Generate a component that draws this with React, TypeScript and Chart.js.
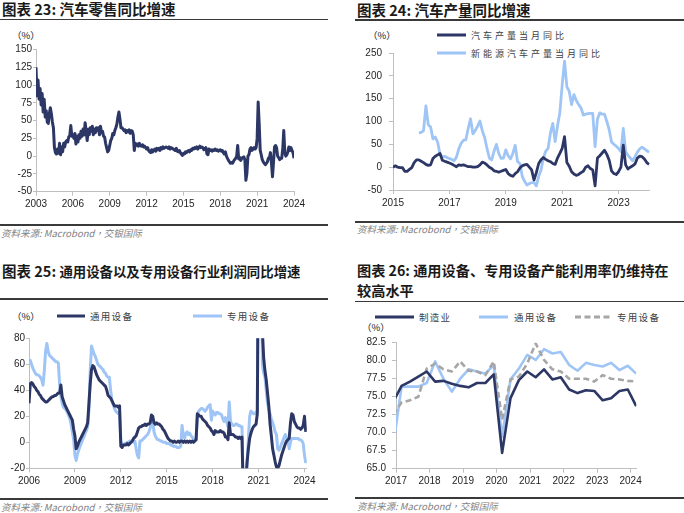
import React, { useEffect, useRef } from "react";
import { Chart, registerables } from "chart.js";
Chart.register(...registerables);

const NAVY = "#2c3766";
const LIGHT = "#9fc5f6";
const GREY = "#a6a6a6";
const AXIS = "#bfbfbf";
const TICK_TEXT = "#1f1f1f";
const CJK = "'Noto Sans CJK SC', 'Noto Sans', sans-serif";
const CJK_TC = "'Noto Sans CJK TC', 'Noto Sans CJK SC', sans-serif";

// ---------- 图表 23: 汽车零售同比增速 (monthly from 2003-01) ----------
const retailStartYear = 2003;
const retailYoY = [
  125, 85, 107, 80, 95, 72, 88, 62, 80, 55, 64, 48,
  46, 60, 68, 60, 48, 40, 12, 5, 3, 10, 4, 18,
  2, 13, 6, 18, 13, 20, 22, 20, 27, 29, 43, 28,
  30, 25, 32, 17, 28, 20, 30, 25, 35, 28, 38, 30,
  47, 35, 22, 38, 30, 40, 35, 42, 30, 38, 33, 40,
  36, 40, 30, 42, 33, 35, 28, 27, 18, 12, 6, 8,
  15, 22, 25, 32, 30, 36, 40, 45, 55, 62, 52, 40,
  40, 38, 36, 37, 33, 36, 34, 37, 32, 36, 35, 30,
  8, 18, 15, 17, 14, 18, 15, 14, 16, 13, 14, 12,
  10, 12, 8, 6, 5, 9, 6, 8, 10, 7, 11, 9,
  11, 8, 12, 10, 13, 11, 12, 13, 12, 11, 13, 10,
  12, 11, 10, 9, 8, 11, 7, 6, 8, 5, 3, 1,
  4, 3, 6, 5, 7, 8, 6, 9, 8, 11, 10, 12,
  11, 13, 10, 12, 14, 12, 13, 12, 9, 10, 12, 3,
  2, 10, 8, 9, 7, 9, 8, 10, 8, 9, 7, 8,
  9, 7, 8, 5, 3, 6, 0, -3, -6, -8, -10, -9,
  -10, -7, -5, -3, 0, 15, -4, -2, -6, -3, -2, -1,
  -5, -34, -24, 0, 2, 10, 12, 8, 10, 12, 10, 12,
  25, 76, 45, 8, 2, -5, -8, -10, -12, -10, -8, -3,
  -2, 5, -10, -29, -8, 13, 15, 12, 0, -2, -5, -3,
  -3, 10, 36, 5, 0, 2, 6, 13, 8, 12, 8, 5,
  -3,
];
const retailXTicks = [2003, 2006, 2009, 2012, 2015, 2018, 2021, 2024];
const retailYTicks = [-50, -25, 0, 25, 50, 75, 100, 125, 150];

// ---------- 图表 24: 汽车产量同比增速 (monthly from 2015-01) ----------
const prodStartYear = 2015;
const autoProdYoY = [
  0, 3, 0, -1, -1, -9, -9, -5, -1, 10, 16, 16,
  13, 10, 6, 4, 5, 19, 24, 27, 30, 15, 13, 11,
  9, 7, 4, 1, 5, 4, 5, 3, 1, 1, 0, 0,
  1, 5, 11, 9, 5, 0, -3, -8, -9, -11, -9, -7,
  -5, -14, -18, -20, -14, -10, -2, 3, 5, 6, 0, -6,
  -28, -12, 8, 16, 21, 17, 14, 12, 8, 6, 20, 30,
  41, 67, 10, 2, -10, -15, -18, -16, -12, -9, 0, 3,
  -3, -6, -41, 20, 25, 31, 37, 28, 15, -8, -14, -16,
  -10, 0, 48, 5, -4, 0, 3, 7, 20, 24, 23, 18,
  10, 6,
];
const nevProdYoY = [
  null, null, null, null, null, null, null, null, null, null, null, 75,
  76, 80, 134, 93, 88, 62, 66, 55, 28, 22, 24, 21,
  19, 17, 14, 22, 40, 52, 59, 60, 85, 106, 73, 80,
  90, 101, 80, 65, 41, 20, 16, 35, 50, 30, 19, 20,
  38, 25, 18, 30, 48, 12, 8, -20, -31, -39, -36, -34,
  -34, -41, -20, -6, 20, 35, 41, 75, 96, 56, 90, 119,
  180, 232, 176, 166, 137, 159, 146, 137, 130, 114, 116, 117,
  118, 118, 45, 105, 119, 116, 116, 100, 82, 55, 50, 46,
  41, 34, 85, 34, 26, 20, 14, 23, 33, 40, 44, 40,
  36, 33,
];
const prodXTicks = [2015, 2017, 2019, 2021, 2023];
const prodYTicks = [-50, 0, 50, 100, 150, 200, 250];

// ---------- 图表 25: 通用/专用设备利润同比 (monthly from 2006-01) ----------
const profitStartYear = 2006;
const generalEquipProfit = [
  30, 45, 46, 45, 43, 42, 40, 39, 37, 36, 34, 33,
  32, 31, 31, 32, 33, 34, 35, 35, 36, 36, 37, 38,
  38, 44, 35, 32, 29, 27, 25, 23, 21, 19, 17, 10,
  5, -5, -3, 0, 2, 4, 6, 8, 10, 12, 15, 30,
  45, 56, 59, 58, 55, 52, 50, 48, 47, 46, 45, 44,
  43, 40, 36, 35, 34, 32, 30, 28, 28, 28, 27, 28,
  -3, -4, -2, -2, -2, -1, -2, -1, 0, 1, 3, 4,
  5, 8, 11, 12, 12, 13, 13, 14, 13, 14, 14, 15,
  21, 20, 15, 14, 15, 14, 14, 13, 12, 10, 9, 7,
  5, 3, 2, 1, 1, 0, 1, 0, 0, 1, 0, 1,
  1, 0, 1, 0, 1, 0, 1, 0, 1, 0, 1, 2,
  22, 21, 20, 20, 18, 17, 16, 15, 13, 12, 11, 9,
  8, 6, 9, 8, 8, 8, 9, 8, 8, 7, 4, 4,
  2, 15, 6, 6, 6, 5, 4, 4, 3, 4, 3, 4,
  -40, -40, -30, -15, -5, 3, 7, 10, 12, 13, 14, 22,
  180, 220, 140, 85, 65, 55, 48, 38, 28, 14, 5, -5,
  -10, -15, -19, -20, -18, -14, -10, -7, -4, -1, 1, 2,
  3, 15, 22, 21, 16, 14, 12, 11, 11, 10, 11, 13,
  20, 8,
];
const specialEquipProfit = [
  62, 63, 60, 57, 55, 53, 52, 52, 51, 50, 48, 44,
  55, 70, 76, 70, 67, 66, 65, 64, 63, 62, 62, 61,
  45, 35, 30, 27, 26, 25, 23, 21, 18, 14, 8, 2,
  -10, -14, -9, -6, -3, -1, 2, 4, 7, 9, 12, 25,
  55, 74, 71, 68, 66, 63, 60, 59, 58, 57, 56, 54,
  53, 51, 50, 50, 40, 32, 29, 26, 24, 23, 22, 22,
  1, -2, -2, -1, -1, 0, 0, 1, 1, 1, 0, 1,
  -5, -10, -12, 1, 1, 2, 3, 4, 5, 6, 8, 11,
  14, 17, 8, 5, 3, 2, 2, 1, 1, 0, 0, 0,
  -1, -1, -1, -2, -2, -3, -3, -3, -4, -4, -4, -3,
  13, 5, 3, 7, 8, 6, 7, 5, 4, 2, 1, 2,
  21, 24, 25, 26, 26, 25, 24, 25, 27, 28, 29, 17,
  24, 22, 21, 23, 23, 22, 22, 21, 18, 16, 19, 16,
  12, 31, 16, 14, 13, 13, 14, 14, 13, 13, 12, 12,
  -40, -40, -30, -15, 3, 20, 24, 23, 22, 22, 23, 24,
  250, 280, 150, 60, 53, 50, 40, 30, 25, 22, 18, 15,
  12, 8, 6, -5, -6, -4, -1, 1, 4, 6, 3, 1,
  -5, 0, 3, 3, 3, 3, 3, 3, 2, 2, 1, -1,
  -10, -16,
];
const profitXTicks = [2006, 2009, 2012, 2015, 2018, 2021, 2024];
const profitYTicks = [-20, 0, 20, 40, 60, 80];

// ---------- 图表 26: 产能利用率 (quarterly from 2016Q4) ----------
const capStartYear = 2016;
const capStartQuarter = 4;
const mfgUtil = [
  74.3, 76.5, 77.1, 77.8, 78.5, 77.1, 77.2, 76.8, 76.5, 76.3, 76.9, 76.9, 78.1,
  67.2, 74.8, 77.3, 78.5, 77.7, 78.8, 77.4, 77.7, 76.0, 75.5, 75.9, 75.8,
  74.5, 74.8, 75.8, 76.0, 73.7,
];
const generalUtil = [
  68.2, 76.4, 76.4, 76.4, 76.9, 79.9, 77.5, 75.7, 77.5, 78.8, 78.5, 78.2, 79.4,
  69.4, 77.4, 78.9, 80.8, 80.1, 81.6, 81.0, 81.2, 79.4, 78.6, 79.7, 79.4,
  79.2, 79.7, 78.7, 79.3, 78.2,
];
const specialUtil = [
  72.5, 74.2, 74.5, 75.0, 78.9, 79.6, 78.8, 78.5, 79.9, 78.6, 78.5, 78.0, 79.9,
  71.8, 77.4, 77.8, 79.6, 82.4, 80.1, 78.8, 78.5, 77.5, 77.5, 77.5, 77.1,
  78.0, 77.5, 77.4, 77.2, 77.1,
];
const capXTicks = [2017, 2018, 2019, 2020, 2021, 2022, 2023, 2024];
const capYTicks = [65, 67.5, 70, 72.5, 75, 77.5, 80, 82.5];

// ---------- helpers ----------
const monthlyDates = (startYear: number, n: number) =>
  Array.from({ length: n }, (_, i) => startYear + i / 12);
// quarter-end month position (Mar, Jun, Sep, Dec)
const quarterlyDates = (startYear: number, startQ: number, n: number) =>
  Array.from({ length: n }, (_, i) => {
    const q = startQ - 1 + i;
    const y = startYear + Math.floor(q / 4);
    const qi = q % 4;
    return y + (qi * 3 + 2) / 12;
  });

type Series = {
  label: string;
  values: (number | null)[];
  color: string;
  width: number;
  dash?: number[];
  order?: number;
};
type Spec = {
  xs: number[];
  series: Series[];
  xMin: number;
  xMax: number;
  xTicks: number[];
  yMin: number;
  yMax: number;
  yTicks: number[];
  yFormat?: (v: number) => string;
  yAxisWidth: number;
  xAxisHeight: number;
  padTop: number;
  padRight: number;
  yTickLen: number;
  yTickPad: number;
};

function buildConfig(s: Spec): any {
  const tickFont = { family: "'Liberation Sans', Arial, sans-serif", size: 10 };
  return {
    type: "line",
    data: {
      datasets: s.series.map((d) => ({
        label: d.label,
        data: d.values.map((v, i) => ({ x: s.xs[i], y: v })),
        borderColor: d.color,
        backgroundColor: d.color,
        borderWidth: d.width,
        borderDash: d.dash || [],
        pointRadius: 0,
        pointHoverRadius: 0,
        tension: 0,
        fill: false,
        spanGaps: false,
        order: d.order ?? 0,
        borderJoinStyle: "round",
      })),
    },
    options: {
      animation: false,
      responsive: false,
      maintainAspectRatio: false,
      events: [],
      layout: { padding: { top: s.padTop, right: s.padRight, left: 0, bottom: 0 } },
      plugins: {
        legend: { display: false },
        tooltip: { enabled: false },
        title: { display: false },
      },
      scales: {
        x: {
          type: "linear",
          min: s.xMin,
          max: s.xMax,
          afterBuildTicks: (a: any) => {
            a.ticks = s.xTicks.map((v) => ({ value: v }));
          },
          afterFit: (a: any) => {
            a.height = s.xAxisHeight;
          },
          ticks: {
            callback: (v: any) => String(v),
            font: tickFont,
            color: TICK_TEXT,
            padding: 3,
            maxRotation: 0,
            autoSkip: false,
          },
          grid: { drawOnChartArea: false, drawTicks: true, tickLength: 4, color: AXIS, lineWidth: 1 },
          border: { display: true, color: AXIS, width: 1 },
        },
        y: {
          type: "linear",
          min: s.yMin,
          max: s.yMax,
          afterBuildTicks: (a: any) => {
            a.ticks = s.yTicks.map((v) => ({ value: v }));
          },
          afterFit: (a: any) => {
            a.width = s.yAxisWidth;
          },
          ticks: {
            callback: (v: any) => (s.yFormat ? s.yFormat(Number(v)) : String(v)),
            font: tickFont,
            color: TICK_TEXT,
            padding: s.yTickPad,
            autoSkip: false,
          },
          grid: { drawOnChartArea: false, drawTicks: true, tickLength: s.yTickLen, color: AXIS, lineWidth: 1 },
          border: { display: true, color: AXIS, width: 1 },
        },
      },
    },
  };
}

function ChartCanvas(props: { spec: Spec; left: number; top: number; width: number; height: number }) {
  const ref = useRef<HTMLCanvasElement>(null);
  useEffect(() => {
    const chart = new Chart(ref.current as HTMLCanvasElement, buildConfig(props.spec));
    return () => chart.destroy();
  }, []);
  return (
    <canvas
      ref={ref}
      width={props.width}
      height={props.height}
      style={{ position: "absolute", left: props.left, top: props.top, width: props.width, height: props.height }}
    />
  );
}

function Txt(props: {
  x: number;
  cy: number;
  size: number;
  children: React.ReactNode;
  color?: string;
  weight?: number;
  italic?: boolean;
  family?: string;
  spacing?: number;
}) {
  const h = Math.round(props.size * 1.4);
  return (
    <div
      style={{
        position: "absolute",
        left: props.x,
        top: props.cy - h / 2,
        height: h,
        lineHeight: `${h}px`,
        fontSize: props.size,
        color: props.color || "#1a1a1a",
        fontWeight: props.weight || 400,
        fontStyle: props.italic ? "italic" : "normal",
        fontFamily: props.family || CJK,
        letterSpacing: props.spacing || 0,
        whiteSpace: "nowrap",
      }}
    >
      {props.children}
    </div>
  );
}

function HLine(props: { x1: number; x2: number; y: number; w?: number; color?: string }) {
  const w = props.w || 1.5;
  return (
    <div
      style={{
        position: "absolute",
        left: props.x1,
        top: props.y - w / 2,
        width: props.x2 - props.x1,
        height: w,
        background: props.color || "#3a3a3a",
      }}
    />
  );
}

function LegendLine(props: { x1: number; x2: number; y: number; color: string; w?: number; dash?: string }) {
  const w = props.w || 3;
  return (
    <svg
      style={{ position: "absolute", left: props.x1, top: props.y - 4, overflow: "visible" }}
      width={props.x2 - props.x1}
      height={8}
    >
      <line
        x1={0}
        y1={4}
        x2={props.x2 - props.x1}
        y2={4}
        stroke={props.color}
        strokeWidth={w}
        strokeDasharray={props.dash}
      />
    </svg>
  );
}

const FOOT = "资料来源: Macrobond，交银国际";

export default function App() {
  const spec1: Spec = {
    xs: monthlyDates(retailStartYear, retailYoY.length),
    series: [{ label: "汽车零售同比", values: retailYoY, color: NAVY, width: 3 }],
    xMin: 2003,
    xMax: 2024,
    xTicks: retailXTicks,
    yMin: -50,
    yMax: 150,
    yTicks: retailYTicks,
    yAxisWidth: 36,
    xAxisHeight: 26.3,
    padTop: 9.5,
    padRight: 16,
    yTickLen: 3,
    yTickPad: 1,
  };
  const spec2: Spec = {
    xs: monthlyDates(prodStartYear, autoProdYoY.length),
    series: [
      { label: "汽车产量当月同比", values: autoProdYoY, color: NAVY, width: 2.8, order: 0 },
      { label: "新能源汽车产量当月同比", values: nevProdYoY, color: LIGHT, width: 2.8, order: 1 },
    ],
    xMin: 2015,
    xMax: 2024.1,
    xTicks: prodXTicks,
    yMin: -50,
    yMax: 250,
    yTicks: prodYTicks,
    yAxisWidth: 51,
    xAxisHeight: 28,
    padTop: 10,
    padRight: 12.4,
    yTickLen: 4,
    yTickPad: 7,
  };
  const spec3: Spec = {
    xs: monthlyDates(profitStartYear, generalEquipProfit.length),
    series: [
      { label: "通用设备", values: generalEquipProfit, color: NAVY, width: 3, order: 0 },
      { label: "专用设备", values: specialEquipProfit, color: LIGHT, width: 3, order: 1 },
    ],
    xMin: 2006,
    xMax: 2024.15,
    xTicks: profitXTicks,
    yMin: -20,
    yMax: 80,
    yTicks: profitYTicks,
    yAxisWidth: 29,
    xAxisHeight: 28.7,
    padTop: 13.3,
    padRight: 13.2,
    yTickLen: 3,
    yTickPad: 1,
  };
  const spec4: Spec = {
    xs: quarterlyDates(capStartYear, capStartQuarter, mfgUtil.length),
    series: [
      { label: "制造业", values: mfgUtil, color: NAVY, width: 2.6, order: 0 },
      { label: "通用设备", values: generalUtil, color: LIGHT, width: 2.6, order: 2 },
      { label: "专用设备", values: specialUtil, color: GREY, width: 2.6, dash: [6, 3.5], order: 1 },
    ],
    xMin: 2017,
    xMax: 2024.17,
    xTicks: capXTicks,
    yMin: 65,
    yMax: 82.5,
    yTicks: capYTicks,
    yFormat: (v) => v.toFixed(1),
    yAxisWidth: 54,
    xAxisHeight: 21.3,
    padTop: 14.7,
    padRight: 15.7,
    yTickLen: 4,
    yTickPad: 6,
  };

  return (
    <div
      style={{
        position: "fixed",
        left: 0,
        top: 0,
        width: 684,
        height: 513,
        background: "#ffffff",
        overflow: "hidden",
      }}
    >
      {/* Panel 23 */}
      <Txt x={2} cy={9} size={14.5} weight={700}>图表 23: 汽车零售同比增速</Txt>
      <HLine x1={0} x2={328} y={19.5} />
      <Txt x={12} cy={35} size={9.5}>（%）</Txt>
      <ChartCanvas spec={spec1} left={0} top={40} width={310} height={178} />
      <HLine x1={0} x2={328} y={225} />
      <Txt x={1} cy={233} size={9.5} italic color="#7f7f7f" family={CJK_TC}>{FOOT}</Txt>

      {/* Panel 24 */}
      <Txt x={357} cy={9.5} size={14.5} weight={700}>图表 24: 汽车产量同比增速</Txt>
      <HLine x1={355} x2={684} y={20} />
      <Txt x={368} cy={35} size={9.5}>（%）</Txt>
      <LegendLine x1={437} x2={466} y={35} color={NAVY} />
      <Txt x={471} cy={35} size={9} spacing={3} color="#404040">汽车产量当月同比</Txt>
      <LegendLine x1={437} x2={466} y={53} color={LIGHT} />
      <Txt x={471} cy={53} size={9} spacing={3} color="#404040">新能源汽车产量当月同比</Txt>
      <ChartCanvas spec={spec2} left={342} top={40} width={320} height={178} />
      <HLine x1={355} x2={684} y={222} />
      <Txt x={357} cy={229} size={9.5} italic color="#7f7f7f" family={CJK_TC}>{FOOT}</Txt>

      {/* Panel 25 */}
      <Txt x={2} cy={270} size={13.4} weight={700}>
        <span style={{ fontSize: 14.5 }}>图表 25: </span>通用设备以及专用设备行业利润同比增速
      </Txt>
      <HLine x1={0} x2={328} y={299} />
      <Txt x={12} cy={316} size={9.5}>（%）</Txt>
      <LegendLine x1={57} x2={85} y={316} color={NAVY} />
      <Txt x={90} cy={316} size={9.5} spacing={1.3} color="#404040">通用设备</Txt>
      <LegendLine x1={193} x2={222} y={316} color={LIGHT} />
      <Txt x={227} cy={316} size={9.5} spacing={1.3} color="#404040">专用设备</Txt>
      <ChartCanvas spec={spec3} left={0} top={325} width={320} height={172} />
      <HLine x1={0} x2={328} y={499} />
      <Txt x={1} cy={507} size={9.5} italic color="#7f7f7f" family={CJK_TC}>{FOOT}</Txt>

      {/* Panel 26 */}
      <Txt x={357} cy={270} size={14.2} weight={700}>图表 26: 通用设备、专用设备产能利用率仍维持在</Txt>
      <Txt x={357} cy={290} size={14.2} weight={700}>较高水平</Txt>
      <HLine x1={355} x2={684} y={301.5} />
      <LegendLine x1={375} x2={414} y={317} color={NAVY} />
      <Txt x={419} cy={317} size={9.5} spacing={1.3} color="#404040">制造业</Txt>
      <LegendLine x1={479} x2={508} y={317} color={LIGHT} />
      <Txt x={514} cy={317} size={9.5} spacing={1.3} color="#404040">通用设备</Txt>
      <LegendLine x1={575} x2={612} y={317} color={GREY} dash="6 3.5" />
      <Txt x={617} cy={317} size={9.5} spacing={1.3} color="#404040">专用设备</Txt>
      <Txt x={362} cy={327} size={9.5}>（%）</Txt>
      <ChartCanvas spec={spec4} left={342} top={328} width={310} height={162} />
      <HLine x1={355} x2={684} y={498} />
      <Txt x={357} cy={506} size={9.5} italic color="#7f7f7f" family={CJK_TC}>{FOOT}</Txt>
    </div>
  );
}
